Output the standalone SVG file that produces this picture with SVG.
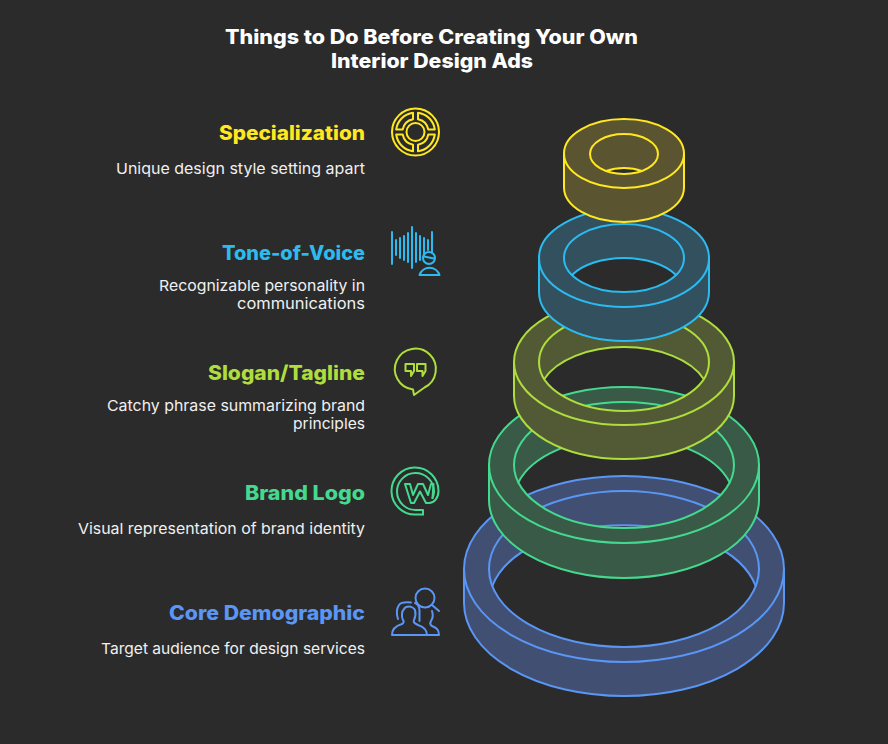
<svg xmlns="http://www.w3.org/2000/svg" width="888" height="744" viewBox="0 0 888 744">
<style>
text{font-family:"Inter","Liberation Sans",sans-serif;text-anchor:end}
.t{font-size:20px;font-weight:800;fill:#fff;text-anchor:middle}
.h{font-size:20px;font-weight:800}
.d{font-size:15px;font-weight:400;fill:#f0f0f0}
.l{fill:none;stroke-width:2;stroke-linejoin:round;stroke-linecap:round}
.i{fill:none;stroke-width:2;stroke-linejoin:round;stroke-linecap:round}
.y{stroke:#FFE81F}.c{stroke:#2BBBF0}.m{stroke:#AEDD3C}.g{stroke:#45D98F}.b{stroke:#5A96F5}
.yt{fill:#FFE81F}.ct{fill:#2BBBF0}.mt{fill:#AEDD3C}.gt{fill:#45D98F}.bt{fill:#5A96F5}
</style>
<rect width="888" height="744" fill="#2b2b2b"/>
<g id="title">
<text class="t" x="431.5" y="44" textLength="413" lengthAdjust="spacingAndGlyphs">Things to Do Before Creating Your Own</text>
<text class="t" x="432" y="68" textLength="202" lengthAdjust="spacingAndGlyphs">Interior Design Ads</text>
</g>
<g id="rings">
<g id="ring-core-demographic">
<path fill="#414f72" fill-rule="evenodd" d="M464 569A160 93 0 0 1 784 569V603A160 93 0 0 1 464 603ZM492.300 586A135 78 0 0 1 755.700 586A135 78 0 0 1 492.300 586Z"/>
<g class="l b"><path d="M464 569V603A160 93 0 0 0 784 603V569"/><ellipse cx="624" cy="569" rx="160" ry="93"/><ellipse cx="624" cy="569" rx="135" ry="78"/><path d="M492.300 586A135 78 0 0 1 755.700 586"/></g>
</g>
<g id="ring-brand-logo">
<path fill="#385a47" fill-rule="evenodd" d="M489 465A135 78 0 0 1 759 465V500A135 78 0 0 1 489 500ZM518.300 482.500A110 63 0 0 1 729.700 482.500A110 63 0 0 1 518.300 482.500Z"/>
<g class="l g"><path d="M489 465V500A135 78 0 0 0 759 500V465"/><ellipse cx="624" cy="465" rx="135" ry="78"/><ellipse cx="624" cy="465" rx="110" ry="63"/><path d="M518.300 482.500A110 63 0 0 1 729.700 482.500"/></g>
</g>
<g id="ring-slogan">
<path fill="#525a35" fill-rule="evenodd" d="M514 362A110 63 0 0 1 734 362V396A110 63 0 0 1 514 396ZM544.300 379A85 49 0 0 1 703.700 379A85 49 0 0 1 544.300 379Z"/>
<g class="l m"><path d="M514 362V396A110 63 0 0 0 734 396V362"/><ellipse cx="624" cy="362" rx="110" ry="63"/><ellipse cx="624" cy="362" rx="85" ry="49"/><path d="M544.300 379A85 49 0 0 1 703.700 379"/></g>
</g>
<g id="ring-tone">
<path fill="#33505f" fill-rule="evenodd" d="M539 258A85 49 0 0 1 709 258V292A85 49 0 0 1 539 292ZM572 275A60 34 0 0 1 676 275A60 34 0 0 1 572 275Z"/>
<g class="l c"><path d="M539 258V292A85 49 0 0 0 709 292V258"/><ellipse cx="624" cy="258" rx="85" ry="49"/><ellipse cx="624" cy="258" rx="60" ry="34"/><path d="M572 275A60 34 0 0 1 676 275"/></g>
</g>
<g id="ring-specialization">
<path fill="#5b5430" fill-rule="evenodd" d="M564 153.500A60 34.500 0 0 1 684 153.500V187.500A60 34.500 0 0 1 564 187.500ZM606.100 171A34 20 0 0 1 641.900 171A34 20 0 0 1 606.100 171Z"/>
<g class="l y"><path d="M564 153.500V187.500A60 34.500 0 0 0 684 187.500V153.500"/><ellipse cx="624" cy="153.500" rx="60" ry="34.500"/><ellipse cx="624" cy="154" rx="34" ry="20"/><path d="M606.100 171A34 20 0 0 1 641.900 171"/></g>
</g>
</g>
<g id="node-specialization">
<text class="h yt" x="365" y="140" textLength="146" lengthAdjust="spacingAndGlyphs">Specialization</text>
<text class="d" x="365" y="174" textLength="249" lengthAdjust="spacingAndGlyphs">Unique design style setting apart</text>
<g class="i y"><circle cx="415.500" cy="132" r="23.500"/><circle cx="415.500" cy="132" r="9"/>
<path d="M413 112.700V119.200A13 13 0 0 0 402.700 129.500H396.200A19.500 19.500 0 0 1 413 112.700Z"/>
<path d="M418 112.700V119.200A13 13 0 0 1 428.300 129.500H434.800A19.500 19.500 0 0 0 418 112.700Z"/>
<path d="M413 151.300V144.800A13 13 0 0 1 402.700 134.500H396.200A19.500 19.500 0 0 0 413 151.300Z"/>
<path d="M418 151.300V144.800A13 13 0 0 0 428.300 134.500H434.800A19.500 19.500 0 0 1 418 151.300Z"/></g>
</g>
<g id="node-tone">
<text class="h ct" x="365" y="260" textLength="143" lengthAdjust="spacingAndGlyphs">Tone-of-Voice</text>
<text class="d" x="365" y="291" textLength="206" lengthAdjust="spacingAndGlyphs">Recognizable personality in</text>
<text class="d" x="365" y="309" textLength="128" lengthAdjust="spacingAndGlyphs">communications</text>
<g class="i c"><path d="M392 232V264M396 240V255M400 238V258M404 236V260M408 233V262M412 227V268M416 233V262M420 236V260M424 238V255M428 240V250M432 232V253"/>
<circle cx="429" cy="258" r="6"/><path d="M424 256.500L434 258.500"/><path d="M419.500 275A10.500 10.500 0 0 1 439.500 275Z"/></g>
</g>
<g id="node-slogan">
<text class="h mt" x="365" y="380" textLength="157" lengthAdjust="spacingAndGlyphs">Slogan/Tagline</text>
<text class="d" x="365" y="411" textLength="258" lengthAdjust="spacingAndGlyphs">Catchy phrase summarizing brand</text>
<text class="d" x="365" y="429" textLength="72" lengthAdjust="spacingAndGlyphs">principles</text>
<g class="i m"><path d="M414 395L413 389.500A20.500 20.500 0 1 1 424.500 387.500Z"/>
<path d="M405.500 364H414V371L411 376V371H405.500Z"/><path d="M417 364H425.500V371L422.500 376V371H417Z"/></g>
</g>
<g id="node-brand-logo">
<text class="h gt" x="365" y="500" textLength="120" lengthAdjust="spacingAndGlyphs">Brand Logo</text>
<text class="d" x="365" y="534" textLength="287" lengthAdjust="spacingAndGlyphs">Visual representation of brand identity</text>
<g class="i g"><path d="M423 514.500V510H416A18.500 18.500 0 1 1 434 491.500C434 494 433.500 496 432.500 498"/>
<path d="M423 514.500H416A23.500 23.500 0 1 1 438.500 491C438.500 498 434 503 429 503H426L420 491.500L414 503H411L405 484H410L413 495L418 484H423L428 495L431 484H433.500L432.500 498"/></g>
</g>
<g id="node-core-demographic">
<text class="h bt" x="365" y="620" textLength="196" lengthAdjust="spacingAndGlyphs">Core Demographic</text>
<text class="d" x="365" y="654" textLength="264" lengthAdjust="spacingAndGlyphs">Target audience for design services</text>
<g class="i b"><circle cx="425" cy="598" r="9.500"/><path d="M432 605L439 611"/>
<path d="M392 635C392 629 395 626 402 624C404 623 404 621 403 620C401 616 402 611 404 609C405 607 407 606.500 409 606.500C411 606.500 414 608 415 610C416 614 415 618 414 620C413 622 414 623 418 625C424 627 427 630 427 635Z"/>
<path d="M398 619C396 613 397 608 399 605C401 602 405 602 411 602.500M415 603C418 604 419 606 419.500 610V621"/>
<path d="M426 635H439C439 630 437 628 432 626C430 625 430 623 431 621C433 618 433 614 432 611"/></g>
</g>
</svg>
